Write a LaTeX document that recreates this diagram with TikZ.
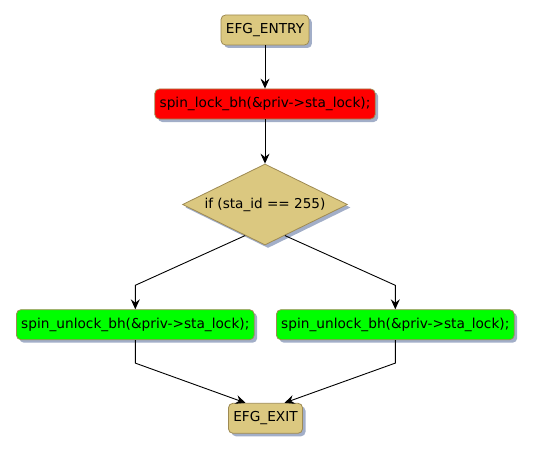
\documentclass[tikz,border=0pt]{standalone}
\usepackage{fontspec}
\setmainfont{DejaVu Sans}
\usetikzlibrary{shapes.geometric,shadows,arrows.meta,calc}
\definecolor{efgtan}{RGB}{219,200,128}
\definecolor{efgborder}{RGB}{158,138,82}
\definecolor{efgshadow}{RGB}{162,174,200}
\definecolor{efgred}{RGB}{255,0,0}
\definecolor{efggreen}{RGB}{0,255,0}
\tikzset{
	efgshade/.style={drop shadow={shadow xshift=3pt, shadow yshift=-3pt, fill=efgshadow, opacity=1}},
	efgbox/.style={efgshade, draw=efgborder, line width=0.8pt, rounded corners=4.5pt,
		minimum height=30pt, inner xsep=4.8pt, inner ysep=0pt,
		font=\fontsize{13.7}{16}\selectfont},
	efgcond/.style={efgshade, diamond, aspect=2.04, draw=efgborder, fill=efgtan, line width=0.8pt,
		inner sep=0pt, minimum width=165pt, minimum height=81pt,
		font=\fontsize{13.6}{16}\selectfont},
	efgflow/.style={-{Stealth[length=10pt,width=9pt,inset=3.5pt]}, line width=0.9pt}
}

\begin{document}
\begin{tikzpicture}[x=1pt, y=-1pt]
	\useasboundingbox (0,0) rectangle (533,452);
	\node[efgbox, fill=efgtan] (entry) at (265,30) {EFG\_ENTRY};
	\node[efgbox, fill=efgred] (lock) at (265,104) {spin\_lock\_bh(\&priv->sta\_lock);};
	\node[efgcond] (cond) at (265,204.5) {if (sta\_id == 255)};
	\node[efgbox, fill=efggreen] (unlockA) at (135.3,324.7) {spin\_unlock\_bh(\&priv->sta\_lock);};
	\node[efgbox, fill=efggreen] (unlockB) at (395.3,324.7) {spin\_unlock\_bh(\&priv->sta\_lock);};
	\node[efgbox, fill=efgtan] (exit) at (265.5,418.3) {EFG\_EXIT};
	\draw[efgflow] (entry) -- (lock);
	\draw[efgflow] (lock) -- (cond);
	\draw[efgflow] ($(cond.west)!0.76!(cond.south)$) -- ([yshift=24pt]unlockA.north) -- (unlockA.north);
	\draw[efgflow] ($(cond.east)!0.76!(cond.south)$) -- ([yshift=24pt]unlockB.north) -- (unlockB.north);
	\draw[efgflow] (unlockA.south) -- ([yshift=-23pt]unlockA.south) -- ([xshift=-20pt]exit.north);
	\draw[efgflow] (unlockB.south) -- ([yshift=-23pt]unlockB.south) -- ([xshift=19pt]exit.north);
\end{tikzpicture}
\end{document}
